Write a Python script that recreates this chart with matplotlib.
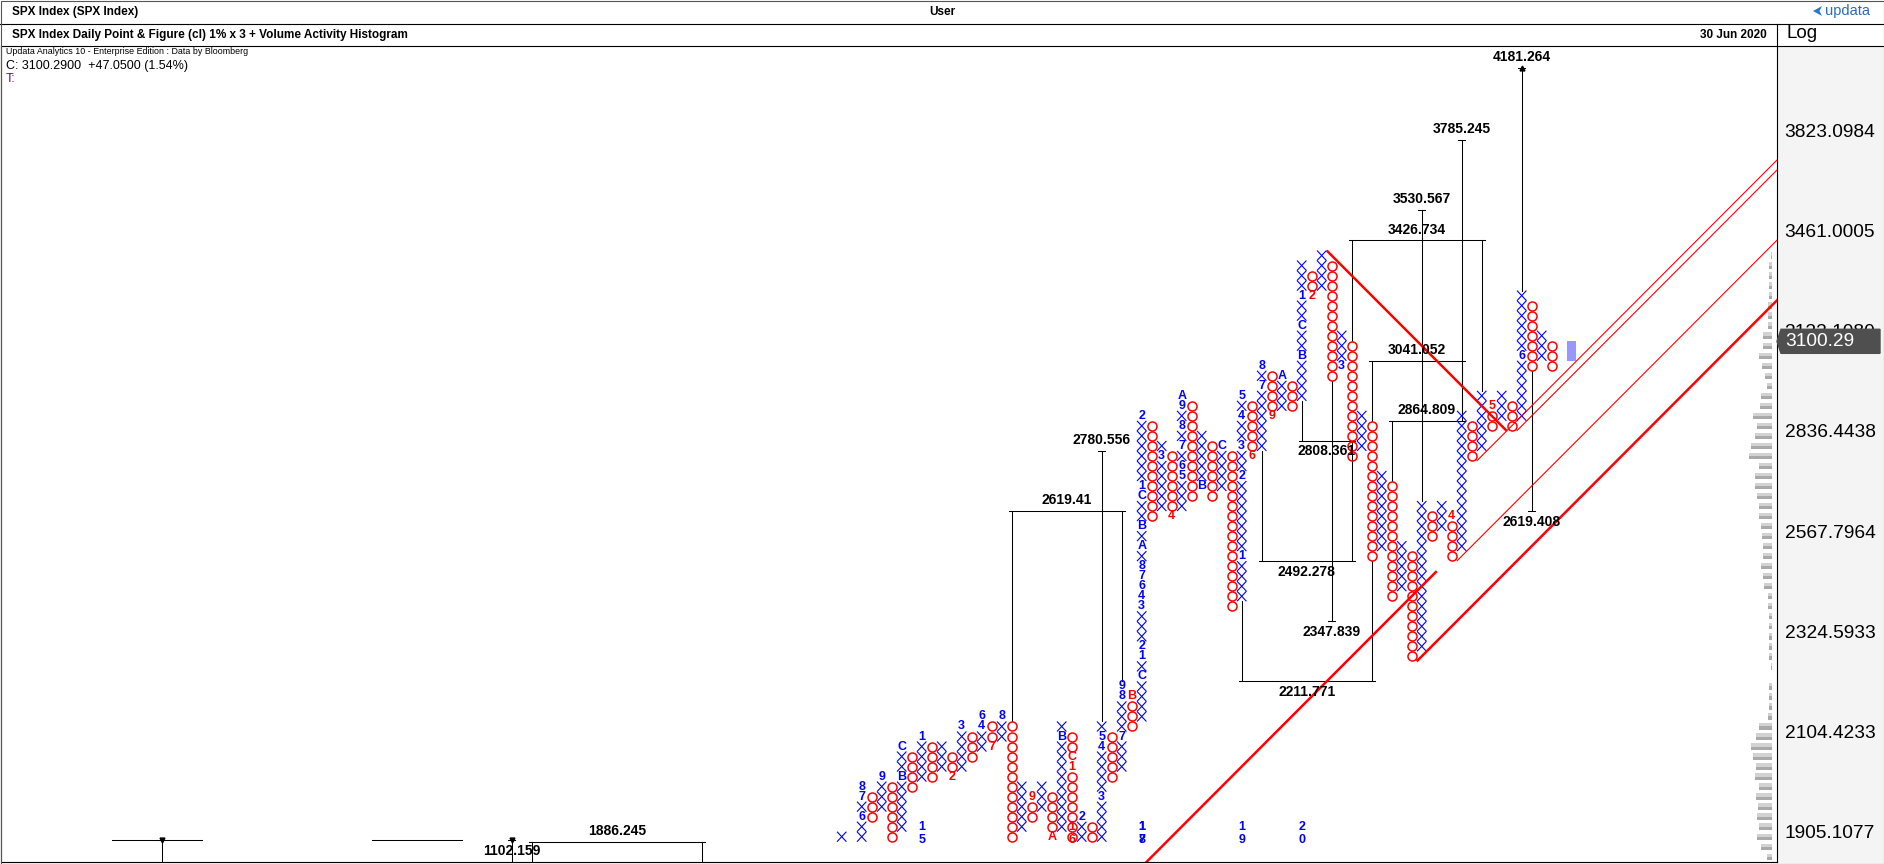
import numpy as np
import matplotlib
matplotlib.use("Agg")
import matplotlib.pyplot as plt
from matplotlib.collections import LineCollection
from matplotlib.patches import Rectangle, Polygon
from matplotlib.lines import Line2D
from matplotlib.ticker import NullLocator, NullFormatter

plt.rcParams['font.family'] = ['Liberation Sans', 'DejaVu Sans']

W, H = 1884, 864
BASE = 1905.1077   # price at box 0 (lowest axis label)
STEP = 1.01        # 1% box size

# point & figure columns, left to right; even index = X, odd index = O
# box numbers counted from BASE, inclusive
col_low = [-3, -3, -2, 2, 3, 0, 1, 5, 6, 6, 7, 6, 7, 8, 9, 9, 10, 0, 1, 2,
           3, 0, 1, -1, 0, -1, 0, 6, 7, 11, 12, 32, 33, 32, 33, 34, 35, 34, 35, 23,
           24, 38, 39, 42, 43, 43, 44, 54, 55, 46, 47, 38, 39, 28, 29, 24, 25, 18, 19, 30,
           31, 28, 29, 38, 39, 41, 42, 41, 42, 47, 48, 47]
col_high = [0, -1, 5, 4, 6, 5, 9, 8, 10, 9, 9, 8, 11, 10, 12, 11, 12, 11, 5, 4,
            5, 4, 11, 10, 2, 1, 11, 10, 15, 14, 42, 41, 39, 38, 44, 43, 40, 39, 39, 38,
            44, 43, 47, 46, 46, 45, 57, 56, 58, 57, 50, 49, 42, 41, 36, 35, 29, 28, 33, 32,
            33, 32, 42, 41, 44, 43, 44, 43, 54, 53, 50, 49]

# month markers (column, box, month code)
month_marks = [
    (2, 2, '6'), (2, 4, '7'), (2, 5, '8'), (4, 6, '9'), (6, 6, 'B'), (6, 9, 'C'),
    (8, 10, '1'), (11, 6, '2'), (12, 11, '3'), (14, 11, '4'), (14, 12, '6'),
    (15, 9, '7'), (16, 12, '8'), (19, 4, '9'), (21, 0, 'A'), (22, 10, 'B'),
    (23, 8, 'C'), (23, 7, '1'), (24, 2, '2'), (26, 4, '3'), (26, 9, '4'), (26, 10, '5'),
    (28, 10, '7'), (28, 14, '8'), (28, 15, '9'), (29, 14, 'B'),
    (30, 16, 'C'), (30, 18, '1'), (30, 19, '2'), (30, 23, '3'), (30, 24, '4'),
    (30, 25, '6'), (30, 26, '7'), (30, 27, '8'), (30, 29, 'A'), (30, 31, 'B'),
    (30, 34, 'C'), (30, 35, '1'), (30, 42, '2'), (32, 38, '3'), (33, 32, '4'),
    (34, 36, '5'), (34, 37, '6'), (34, 39, '7'), (34, 41, '8'), (34, 43, '9'), (34, 44, 'A'),
    (36, 35, 'B'), (38, 39, 'C'), (40, 28, '1'), (40, 36, '2'), (40, 39, '3'),
    (40, 42, '4'), (40, 44, '5'), (41, 38, '6'), (42, 45, '7'), (42, 47, '8'),
    (43, 42, '9'), (44, 46, 'A'), (46, 48, 'B'), (46, 51, 'C'), (46, 54, '1'),
    (47, 54, '2'), (50, 47, '3'), (61, 32, '4'), (65, 43, '5'), (68, 48, '6'),
]

# year markers at the bottom (column, year)
year_marks = [(8, '15'), (23, '16'), (30, '17'), (30, '18'), (40, '19'), (46, '20')]

# price targets
up_verticals = [(26, 2780.556), (58, 3530.567), (62, 3785.245), (68, 4181.264)]
down_verticals = [(49, 2347.839), (69, 2619.408), (-33, 1102.159), (-68, None)]
up_brackets = [(17, 28, 2619.41), (51, 64, 3426.734), (53, 62, 3041.052),
               (55, 62, 2864.809), (-31, -14, 1886.245)]
down_brackets = [(46, 51, 2808.361), (42, 51, 2492.278), (40, 53, 2211.771)]
floor_brackets = [(-73, -64), (-47, -38)]

# trend lines: start (column edge, box edge), slope in boxes per column, end column
thick_lines = [(48.5, 58, -1, 66.5), (57.5, 17, 1, 96), (28.5, -5, 1, 59.5)]
thin_lines = [(61.5, 27, 1, 96), (63.5, 37, 1, 96), (67.5, 40, 1, 96)]

# volume activity histogram (box, relative length)
vol_box = list(range(58, -3, -1))
vol_len = [1.3, 3.0, 3.7, 3.7, 3.7, 4.3, 4.3, 4.3, 9.0, 9.7, 13.0, 10.3, 7.7, 5.0,
           11.0, 12.3, 19.0, 15.7, 17.7, 21.7, 23.0, 13.7, 17.7, 17.7, 15.0, 13.7,
           13.0, 11.0, 10.3, 9.7, 9.7, 11.0, 9.0, 8.3, 4.3, 4.3, 3.7, 3.0, 3.0, 3.0,
           3.0, 1.7, 0.0, 3.0, 3.0, 3.0, 4.3, 13.7, 16.3, 21.7, 19.7, 16.3, 17.0,
           13.7, 16.3, 14.3, 15.0, 13.7, 15.7, 11.7, 5.7]

axis_prices = [1905.1077, 2104.4233, 2324.5933, 2567.7964, 2836.4438,
               3133.1080, 3461.0005, 3823.0984]
close, change, pct = 3100.29, 47.05, 1.54
pending_box = 47


def price(level):
    return BASE * STEP ** np.asarray(level, dtype=float)


def level(p):
    return np.log(p / BASE) / np.log(STEP)


def on_chart(c):
    return 0 <= c < len(col_low)


def top_edge(c):
    return col_high[c] if on_chart(c) else -12


def bottom_edge(c):
    return col_low[c] - 1 if on_chart(c) else -12


BLUE = '#0000ff'
RED = '#ff0000'
LAB = dict(fontsize=10, fontweight='bold', color='black', ha='center', zorder=6)

fig = plt.figure(figsize=(W / 100, H / 100), dpi=100)
ax = fig.add_axes([1 / W, 1 - 862 / H, 1776 / W, 816 / H])
ax.set_yscale('log')
XL = (-84.07, 93.53)
YL = (-3.024, 78.41)
ax.set_xlim(*XL)
ax.set_ylim(price(YL[0]), price(YL[1]))
FLOOR = -0.85
CEIL = YL[1] - 2.2

# ---- symbols
marked = {(c, b): t for c, b, t in month_marks}
segs = []
o_x, o_y = [], []
for c, (lo, hi) in enumerate(zip(col_low, col_high)):
    for b in range(max(lo, 0), hi + 1):
        if (c, b) in marked:
            continue
        if c % 2 == 0:
            segs.append([(c - 0.47, price(b - 1)), (c + 0.47, price(b))])
            segs.append([(c - 0.47, price(b)), (c + 0.47, price(b - 1))])
        else:
            o_x.append(c)
            o_y.append(price(b - 0.5))
ax.add_collection(LineCollection(segs, colors=BLUE, linewidths=0.8, zorder=3))
ax.plot(o_x, o_y, 'o', ms=6.5, mfc='none', mec=RED, mew=1.1, ls='none', zorder=3)

MK = dict(fontsize=9, fontweight='bold', ha='center', va='center', zorder=4)
for c, b, t in month_marks:
    ax.text(c, price(b - 0.5), t, color=BLUE if c % 2 == 0 else RED, **MK)

for c, yr in year_marks:
    col = BLUE if c % 2 == 0 else RED
    ax.text(c, price(0.5), yr[0], color=col, **MK)
    ax.text(c, price(-0.85), yr[1], color=col, **MK)

# ---- targets
KW = dict(color='black', lw=0.75, zorder=2)


def fmt(v):
    return f'{v:.3f}'.rstrip('0').rstrip('.')


for c, v in up_verticals:
    lv = level(v)
    clamped = lv > CEIL
    lv = min(lv, CEIL)
    ax.plot([c, c], [price(top_edge(c)), price(lv)], **KW)
    ax.plot([c - 0.35, c + 0.35], [price(lv)] * 2, **KW)
    if clamped:
        ax.plot([c], [price(lv)], marker='^', ms=3.5, color='black', zorder=2)
    ax.annotate(fmt(v), (c, price(lv)), xytext=(0, 8.2), textcoords='offset points',
                va='center', **LAB)

for c, v in down_verticals:
    clamped = v is None or level(v) < FLOOR
    lv = FLOOR if clamped else level(v)
    if clamped:
        ax.plot([c, c], [price(lv), price(YL[0])], **KW)
        ax.plot([c], [price(lv)], marker='v', ms=3.5, color='black', zorder=2)
    else:
        ax.plot([c, c], [price(bottom_edge(c)), price(lv)], **KW)
    ax.plot([c - 0.35, c + 0.35], [price(lv)] * 2, **KW)
    if v is not None:
        ax.annotate(fmt(v), (c, price(lv)), xytext=(0, -7.6), textcoords='offset points',
                    va='center', **LAB)

for c1, c2, v in up_brackets:
    lv = level(v)
    ax.plot([c1 - 0.3, c2 + 0.3], [price(lv)] * 2, **KW)
    for c in (c1, c2):
        ax.plot([c, c], [price(lv), price(top_edge(c))], **KW)
    ax.annotate(fmt(v), ((c1 + c2) / 2, price(lv)), xytext=(0, 7.6),
                textcoords='offset points', va='center', **LAB)

for c1, c2, v in down_brackets:
    lv = level(v)
    ax.plot([c1 - 0.3, c2 + 0.3], [price(lv)] * 2, **KW)
    for c in (c1, c2):
        ax.plot([c, c], [price(lv), price(bottom_edge(c))], **KW)
    ax.annotate(fmt(v), ((c1 + c2) / 2, price(lv)), xytext=(0, -7.6),
                textcoords='offset points', va='center', **LAB)

for c1, c2 in floor_brackets:
    ax.plot([c1, c2], [price(FLOOR)] * 2, **KW)

# ---- trend lines
for lines, lw in ((thick_lines, 1.8), (thin_lines, 0.8)):
    for c0, b0, s, c1 in lines:
        ax.plot([c0, c1], [price(b0), price(b0 + s * (c1 - c0))], color=RED, lw=lw,
                zorder=3.5, solid_capstyle='butt')

# ---- volume activity histogram
right = 93.06
for b, ln in zip(vol_box, vol_len):
    if ln <= 0:
        continue
    lo, hi = price(b - 0.5 - 0.32), price(b - 0.5 + 0.32)
    mid = price(b - 0.5)
    ax.barh(lo, -ln / 10, left=right, height=hi - lo, align='edge', color='#a9a9a9',
            lw=0, zorder=1)
    ax.barh(mid, -ln / 10, left=right, height=hi - mid, align='edge', color='#d2d2d2',
            lw=0, zorder=1)

# pending box marker
ax.add_patch(Rectangle((len(col_low) + 0.55, price(pending_box)), 0.9,
                       close - price(pending_box), color='#8c8cff', alpha=0.9, lw=0,
                       zorder=3))

# ---- axes styling
ax.set_xticks([])
ax.yaxis.tick_right()
ax.yaxis.set_minor_locator(NullLocator())
ax.yaxis.set_minor_formatter(NullFormatter())
ax.set_yticks(axis_prices)
ax.set_yticklabels([f'{p:.4f}' for p in axis_prices])
ax.tick_params(axis='y', length=0, pad=5.5, labelsize=13.8)
for sp in ax.spines.values():
    sp.set_linewidth(0.8)
    sp.set_color('black')

# price tag on the axis
tr = ax.get_yaxis_transform()
x0 = 1.0
x1 = (1880 - 1) / 1776
xb = (1781 - 1) / 1776
tag = Polygon([(x0, close), (xb, close * STEP ** 1.2), (x1, close * STEP ** 1.2),
               (x1, close / STEP ** 1.2), (xb, close / STEP ** 1.2)], closed=True,
              transform=tr, facecolor='#4f4f4f', edgecolor='#4f4f4f', clip_on=False,
              zorder=10)
ax.add_patch(tag)
ax.text((1785 - 1) / 1776, close, f'{close:.2f}', transform=tr, color='white',
        fontsize=13.8, va='center', ha='left', zorder=11, clip_on=False)

# ---- frame / header
fig.patches.append(Rectangle((1777 / W, 0), (W - 1777) / W, 1 - 46 / H,
                             transform=fig.transFigure, facecolor='#f4f4f4',
                             edgecolor='none', zorder=-5))


def hline(y, x0=0, x1=W):
    fig.add_artist(Line2D([x0 / W, x1 / W], [1 - y / H] * 2, color='black', lw=0.8))


hline(23.5)
hline(46, 1777, W)
fig.add_artist(Line2D([1777 / W] * 2, [1 - 23.5 / H, 1 - 46 / H], color='black', lw=0.8))
fig.patches.append(Rectangle((0.5 / W, 0.5 / H), (W - 1) / W, (H - 1) / H,
                             transform=fig.transFigure, fill=False,
                             edgecolor='#555555', lw=0.8, zorder=20))

HB = dict(fontsize=8.5, fontweight='bold', va='center')
fig.text(12 / W, 1 - 12 / H, 'SPX Index (SPX Index)', ha='left', **HB)
fig.text(942 / W, 1 - 12 / H, 'User', ha='center', **HB)
fig.text(12 / W, 1 - 35 / H, 'SPX Index Daily Point & Figure (cl) 1% x 3 + Volume Activity Histogram',
         ha='left', **HB)
fig.text(1767 / W, 1 - 35 / H, '30 Jun 2020', ha='right', **HB)
fig.text(1787 / W, 1 - 34 / H, 'Log', ha='left', va='center', fontsize=13.5)

fig.patches.append(Polygon([(1813 / W, 1 - 11 / H), (1822 / W, 1 - 6 / H),
                            (1819.5 / W, 1 - 11 / H), (1822 / W, 1 - 16 / H)],
                           closed=True, transform=fig.transFigure,
                           facecolor='#2b78c8', edgecolor='none'))
fig.text(1825 / W, 1 - 10.5 / H, 'updata', ha='left', va='center', fontsize=10.5,
         color='#2b6cb5')

fig.text(6 / W, 1 - 52 / H, 'Updata Analytics 10 - Enterprise Edition : Data by Bloomberg',
         ha='left', va='center', fontsize=6.4)
fig.text(6 / W, 1 - 66 / H, f'C: {close:.4f}  +{change:.4f} ({pct:.2f}%)',
         ha='left', va='center', fontsize=9)
fig.text(6 / W, 1 - 79 / H, 'T:', ha='left', va='center', fontsize=9, color='#5b137a')

fig.savefig('out.png', dpi=100)
